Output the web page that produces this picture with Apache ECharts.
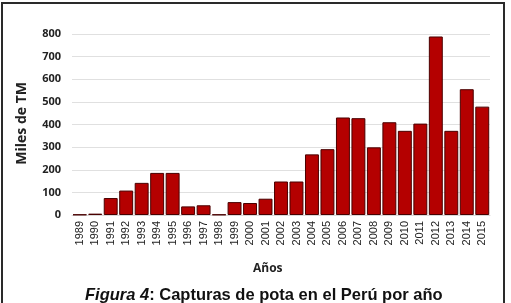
<!DOCTYPE html>
<html>
<head>
<meta charset="utf-8">
<script src="https://cdn.jsdelivr.net/npm/echarts@6/dist/echarts.min.js"></script>
<style>
  html, body { margin: 0; padding: 0; background: #ffffff; }
  #chart { width: 511px; height: 303px; }
</style>
</head>
<body>
<div id="chart"></div>
<script>
// años y capturas (miles de TM)
var years = ["1989", "1990", "1991", "1992", "1993", "1994", "1995", "1996", "1997",
  "1998", "1999", "2000", "2001", "2002", "2003", "2004", "2005", "2006", "2007",
  "2008", "2009", "2010", "2011", "2012", "2013", "2014", "2015"];
var capturas = [2, 6, 75, 108, 142, 186, 186, 38, 43,
  2, 57, 53, 72, 148, 148, 268, 291, 431, 428,
  299, 410, 372, 404, 789, 372, 556, 479];
var yTicks = [0, 100, 200, 300, 400, 500, 600, 700, 800];

var chart = echarts.init(document.getElementById("chart"));
var option = {
  backgroundColor: "#ffffff",
  animation: false,
  grid: {
    left: 72,
    right: 21,
    top: 34,
    bottom: 88,
  },
  xAxis: {
    type: "category",
    data: years,
    axisLine: { show: true, lineStyle: { color: "#d9d9d9" } },
    axisTick: { show: false },
    axisLabel: {
      rotate: 90,
      interval: 0,
      margin: 6,
      color: "#222",
      fontSize: 11,
      fontFamily: "Liberation Sans",
    },
  },
  yAxis: {
    type: "value",
    min: yTicks[0],
    max: yTicks[yTicks.length - 1],
    interval: 100,
    axisLine: { show: false },
    axisTick: { show: false },
    splitLine: { lineStyle: { color: "#e0e0e0" } },
    axisLabel: {
      margin: 11,
      color: "#222",
      fontSize: 11,
      fontWeight: "bold",
      fontFamily: "Open Sans",
    },
  },
  series: [
    {
      name: "Capturas",
      type: "bar",
      barCategoryGap: "10%",
      data: capturas,
      itemStyle: {
        color: "#b40000",
        borderColor: "#4a0000",
        borderWidth: 1,
      },
    },
  ],
  graphic: [
    {
      type: "rect",
      shape: { x: 2, y: 3, width: 502, height: 310 },
      style: { fill: "none", stroke: "#2a2a2a", lineWidth: 2 },
      silent: true,
    },
    {
      type: "text",
      left: 15,
      top: 82,
      rotation: Math.PI / 2,
      style: {
        text: "Miles de TM",
        fontSize: 14,
        fontWeight: "bold",
        fontFamily: "Open Sans",
        fill: "#222",
      },
    },
    {
      type: "text",
      left: 253,
      top: 263,
      style: {
        text: "Años",
        fontSize: 12,
        fontWeight: "bold",
        fontFamily: "Open Sans",
        fill: "#222",
      },
    },
    {
      type: "text",
      left: 85,
      top: 287,
      style: {
        rich: {
          a: { fontStyle: "italic", fontWeight: "bold", fontSize: 16.5, fontFamily: "Liberation Sans", fill: "#111" },
          b: { fontWeight: "bold", fontSize: 16.5, fontFamily: "Liberation Sans", fill: "#111" },
        },
        text: "{a|Figura 4}{b|: Capturas de pota en el Perú por año}",
      },
    },
  ],
};
chart.setOption(option);
</script>
</body>
</html>
